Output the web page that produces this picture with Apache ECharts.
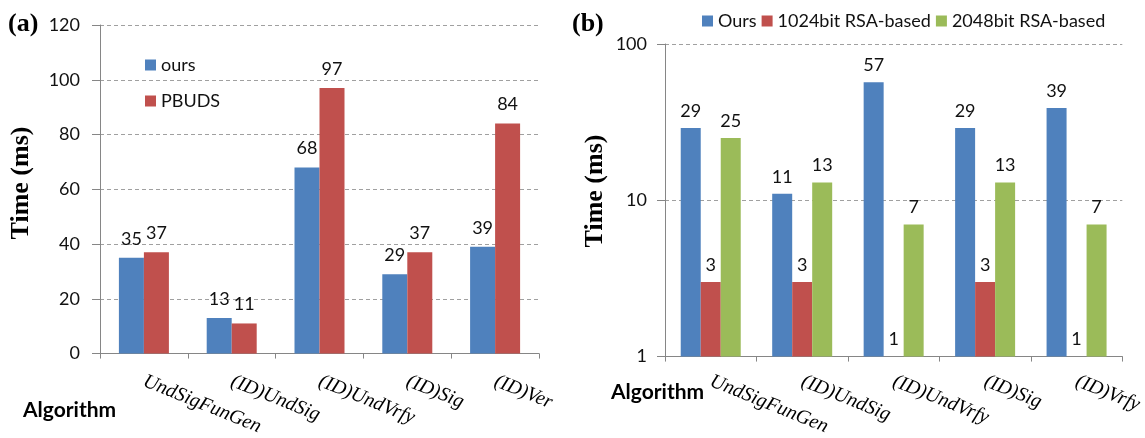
<!DOCTYPE html>
<html>
<head>
<meta charset="utf-8">
<script src="https://cdn.jsdelivr.net/npm/echarts@6/dist/echarts.min.js"></script>
<style>
html,body{margin:0;padding:0;background:#fff;}
#chart{width:1145px;height:438px;}
</style>
</head>
<body>
<div id="chart"></div>
<script>
// ---- data ----
const categoriesA = ['UndSigFunGen', '(ID)UndSig', '(ID)UndVrfy', '(ID)Sig', '(ID)Ver'];
const oursA = [35, 13, 68, 29, 39];
const pbudsA = [37, 11, 97, 37, 84];
const yTicksA = [0, 20, 40, 60, 80, 100, 120];

const categoriesB = ['UndSigFunGen', '(ID)UndSig', '(ID)UndVrfy', '(ID)Sig', '(ID)Vrfy'];
const oursB = [29, 11, 57, 29, 39];
const rsa1024B = [3, 3, 1, 3, 1];
const rsa2048B = [25, 13, 7, 13, 7];
const yTicksB = [1, 10, 100];

const BLUE = '#4F81BD', RED = '#C0504D', GREEN = '#9BBB59';
const SANS = 'Lato';
const SERIF = '"Liberation Serif", "Times New Roman", serif';
const AXIS = '#868686';
const GRID = '#a0a0a0';

const chart = echarts.init(document.getElementById('chart'), null, {renderer: 'canvas'});

function catAxis(idx, cats, margin) {
  return {
    type: 'category', gridIndex: idx, data: cats,
    axisLine: {show: true, lineStyle: {color: AXIS, width: 1}},
    axisTick: {show: true, length: 5, lineStyle: {color: AXIS}},
    axisLabel: {
      rotate: -22, margin: margin, interval: 0,
      fontFamily: SERIF, fontStyle: 'italic', fontSize: 20, color: '#000'
    }
  };
}

const labelA = {show: true, position: 'top', distance: 10, fontFamily: SANS, fontSize: 18, color: '#111'};
const labelB = {show: true, position: 'top', distance: 8, fontFamily: SANS, fontSize: 18, color: '#111'};

const option = {
  animation: false,
  backgroundColor: '#fff',
  grid: [
    {left: 100, right: 606, top: 25, bottom: 79, containLabel: false},
    {left: 665, right: 17, top: 44, bottom: 73, containLabel: false}
  ],
  legend: [
    {
      data: ['ours', 'PBUDS'], orient: 'vertical', left: 140, top: 50,
      itemWidth: 11, itemHeight: 11, itemGap: 16, icon: 'rect',
      textStyle: {fontFamily: SANS, fontSize: 18, color: '#111', lineHeight: 20}
    },
    {
      data: ['Ours', '1024bit RSA-based', '2048bit RSA-based'], orient: 'horizontal', left: 697, top: 6,
      itemWidth: 11, itemHeight: 11, itemGap: 5, icon: 'rect',
      textStyle: {fontFamily: SANS, fontSize: 18, color: '#111', lineHeight: 20}
    }
  ],
  xAxis: [catAxis(0, categoriesA, 27), catAxis(1, categoriesB, 24)],
  yAxis: [
    {
      type: 'value', gridIndex: 0, min: yTicksA[0], max: yTicksA[yTicksA.length - 1], interval: 20,
      axisLine: {show: true, lineStyle: {color: AXIS}},
      axisTick: {show: true, length: 8, lineStyle: {color: AXIS}},
      axisLabel: {margin: 20, fontFamily: SANS, fontSize: 18, color: '#111'},
      splitLine: {show: true, lineStyle: {color: GRID, type: [4, 3]}}
    },
    {
      type: 'log', gridIndex: 1, logBase: 10, min: yTicksB[0], max: yTicksB[yTicksB.length - 1],
      axisLine: {show: true, lineStyle: {color: AXIS}},
      axisTick: {show: true, length: 8, lineStyle: {color: AXIS}},
      axisLabel: {margin: 18, fontFamily: SANS, fontSize: 18, color: '#111'},
      splitLine: {show: true, lineStyle: {color: GRID, type: [4, 3]}},
      minorTick: {show: false}
    }
  ],
  series: [
    {name: 'ours', type: 'bar', xAxisIndex: 0, yAxisIndex: 0, data: oursA, barWidth: 25, barGap: '0%',
      itemStyle: {color: BLUE}, label: labelA},
    {name: 'PBUDS', type: 'bar', xAxisIndex: 0, yAxisIndex: 0, data: pbudsA, barWidth: 25, barGap: '0%',
      itemStyle: {color: RED}, label: labelA},
    {name: 'Ours', type: 'bar', xAxisIndex: 1, yAxisIndex: 1, data: oursB, barWidth: 20, barGap: '0%',
      itemStyle: {color: BLUE}, label: labelB},
    {name: '1024bit RSA-based', type: 'bar', xAxisIndex: 1, yAxisIndex: 1, data: rsa1024B, barWidth: 20, barGap: '0%',
      itemStyle: {color: RED}, label: labelB},
    {name: '2048bit RSA-based', type: 'bar', xAxisIndex: 1, yAxisIndex: 1, data: rsa2048B, barWidth: 20, barGap: '0%',
      itemStyle: {color: GREEN}, label: labelB}
  ],
  graphic: [
    {type: 'text', left: 8, top: 11, style: {text: '(a)', font: 'bold 26px ' + SERIF, fill: '#000'}},
    {type: 'text', left: 572, top: 11, style: {text: '(b)', font: 'bold 26px ' + SERIF, fill: '#000'}},
    {type: 'text', left: 23, top: 400, style: {text: 'Algorithm', font: 'bold 21px ' + SANS, fill: '#000'}},
    {type: 'text', left: 611, top: 382, style: {text: 'Algorithm', font: 'bold 21px ' + SANS, fill: '#000'}},
    {type: 'text', x: 21, y: 183, rotation: Math.PI / 2,
      style: {text: 'Time (ms)', font: 'bold 26px ' + SERIF, fill: '#000', align: 'center', verticalAlign: 'middle'}},
    {type: 'text', x: 595, y: 191, rotation: Math.PI / 2,
      style: {text: 'Time (ms)', font: 'bold 26px ' + SERIF, fill: '#000', align: 'center', verticalAlign: 'middle'}}
  ]
};
chart.setOption(option);
</script>
</body>
</html>
